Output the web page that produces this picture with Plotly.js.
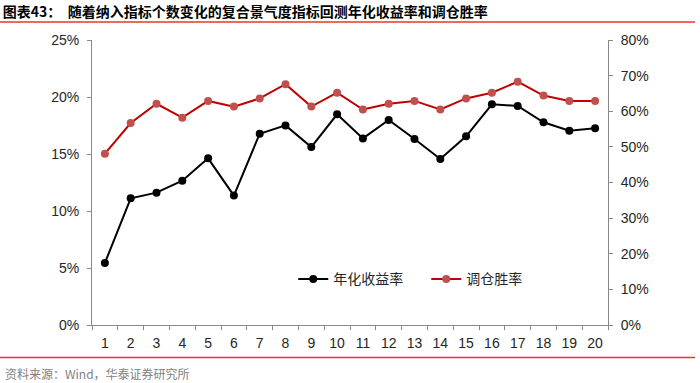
<!DOCTYPE html>
<html>
<head>
<meta charset="utf-8">
<script src="https://cdn.plot.ly/plotly-3.0.1.min.js"></script>
<style>html,body{margin:0;padding:0;background:#fff;}#chart{width:700px;height:383px;}</style>
</head>
<body>
<div id="chart"></div>
<script>
const categories = ["1","2","3","4","5","6","7","8","9","10","11","12","13","14","15","16","17","18","19","20"];
const annualReturn = [0.0544,0.1111,0.1161,0.1266,0.1462,0.1135,0.1678,0.1751,0.1561,0.1848,0.1637,0.1798,0.1632,0.1456,0.1655,0.1936,0.1921,0.1778,0.1705,0.1725];
const winRate = [0.481,0.567,0.621,0.582,0.629,0.613,0.636,0.676,0.613,0.652,0.605,0.621,0.629,0.605,0.636,0.652,0.683,0.644,0.629,0.629];
const seriesNames = ["年化收益率","调仓胜率"];
const leftTicks = [0,0.05,0.10,0.15,0.20,0.25];
const rightTicks = [0,0.1,0.2,0.3,0.4,0.5,0.6,0.7,0.8];
const titleText = "图表43：  随着纳入指标个数变化的复合景气度指标回测年化收益率和调仓胜率";
const sourceText = "资料来源：Wind，华泰证券研究所";

const cjk = '"Noto Sans CJK SC", "Liberation Sans", sans-serif';
const num = '"Liberation Sans", Arial, sans-serif';

const traces = [
  {x: categories, y: annualReturn, name: seriesNames[0], type: 'scatter', mode: 'lines+markers',
   line: {color: '#000000', width: 2}, marker: {color: '#000000', size: 8}, yaxis: 'y'},
  {x: categories, y: winRate, name: seriesNames[1], type: 'scatter', mode: 'lines+markers',
   line: {color: '#C00000', width: 2}, marker: {color: '#C0504D', size: 8}, yaxis: 'y2'}
];

const axisCommon = {showgrid: false, zeroline: false, showline: true, linecolor: '#898989', linewidth: 1,
  ticks: 'outside', ticklen: 4, tickcolor: '#898989', tickfont: {family: num, size: 14, color: '#262626'}};

const layout = {
  width: 700, height: 383,
  margin: {l: 92, r: 92, t: 40, b: 58},
  paper_bgcolor: '#ffffff', plot_bgcolor: '#ffffff',
  title: {text: '<b>' + titleText + '</b>', x: 0.004, xanchor: 'left', xref: 'container',
          y: 1 - 12/383, yanchor: 'middle', yref: 'container',
          font: {family: cjk, size: 14, color: '#000000'}},
  xaxis: Object.assign({}, axisCommon, {type: 'category', tickson: 'boundaries', tickangle: 0,
          range: [-0.5, categories.length - 0.5], autorange: false, ticklabelstandoff: 5}),
  yaxis: Object.assign({}, axisCommon, {range: [0, 0.25], tickvals: leftTicks, tickformat: '.0%', ticklabelstandoff: 5}),
  yaxis2: Object.assign({}, axisCommon, {range: [0, 0.8], tickvals: rightTicks, tickformat: '.0%',
          overlaying: 'y', side: 'right', ticklabelstandoff: 5}),
  showlegend: true,
  legend: {orientation: 'h', x: 0.39, xanchor: 'left', y: 0.16, yanchor: 'middle', entrywidth: 88, entrywidthmode: 'pixels',
           font: {family: cjk, size: 14, color: '#262626'}, bgcolor: 'rgba(0,0,0,0)'},
  shapes: [
    {type: 'line', xref: 'paper', yref: 'paper', x0: -92/516, x1: 603/516, y0: (325-22)/285, y1: (325-22)/285,
     line: {color: '#E8362D', width: 1.5}},
    {type: 'line', xref: 'paper', yref: 'paper', x0: -92/516, x1: 603/516, y0: (325-357.5)/285, y1: (325-357.5)/285,
     line: {color: '#E8362D', width: 1.5}}
  ],
  annotations: [
    {text: sourceText, xref: 'paper', yref: 'paper', x: -89/516, y: (325-373)/285, xanchor: 'left', yanchor: 'middle',
     showarrow: false, font: {family: cjk, size: 12, color: '#7F7F7F'}}
  ]
};

Plotly.newPlot('chart', traces, layout, {displayModeBar: false, staticPlot: true});
</script>
</body>
</html>
